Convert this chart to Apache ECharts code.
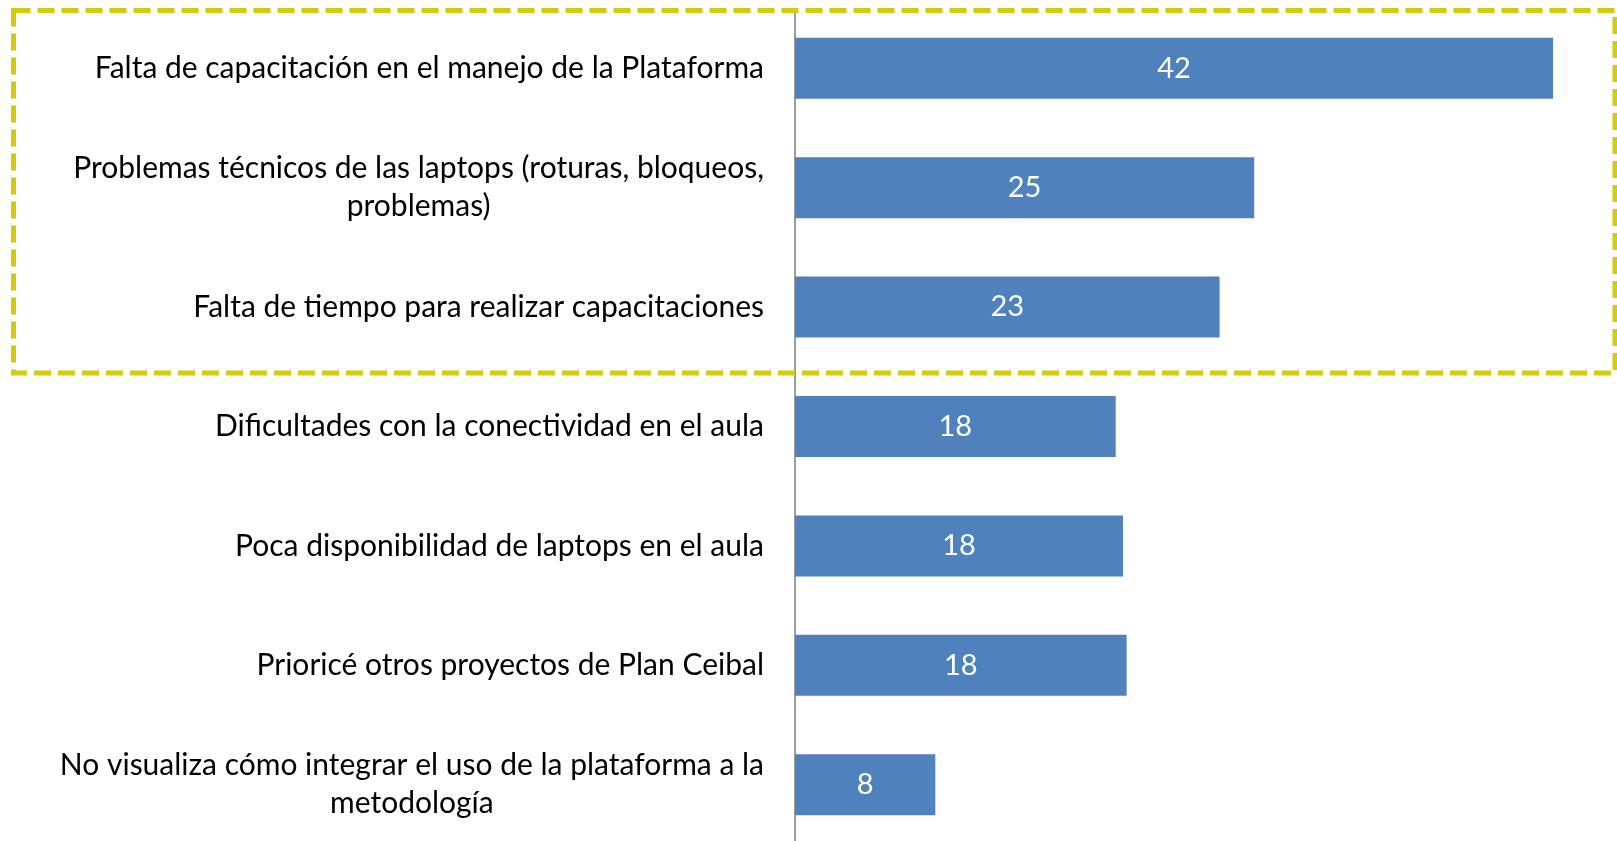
<!DOCTYPE html>
<html>
<head>
<meta charset="utf-8">
<script src="https://cdn.jsdelivr.net/npm/echarts@6/dist/echarts.min.js"></script>
<style>
  html, body { margin: 0; padding: 0; background: #fff; }
  #main { width: 1617px; height: 841px; }
</style>
</head>
<body>
<div id="main"></div>
<script>
// categories, top to bottom
const categories = [
  'Falta de capacitación en el manejo de la Plataforma',
  'Problemas técnicos de las laptops (roturas, bloqueos,\nproblemas)',
  'Falta de tiempo para realizar capacitaciones',
  'Dificultades con la conectividad en el aula',
  'Poca disponibilidad de laptops en el aula',
  'Prioricé otros proyectos de Plan Ceibal',
  'No visualiza cómo integrar el uso de la plataforma a la\nmetodología'
]
// bar lengths (labels show rounded values)
const values = [41.6, 25.2, 23.3, 17.6, 18.0, 18.2, 7.7]

const chart = echarts.init(document.getElementById('main'))
const font = 'Lato, "Open Sans", sans-serif'

chart.setOption({
  animation: false,
  grid: { left: 795, top: 8.5, width: 820, height: 836, outerBoundsMode: 'none' },
  xAxis: {
    type: 'value',
    min: 0,
    max: 45,
    show: false
  },
  yAxis: {
    type: 'category',
    inverse: true,
    data: categories,
    axisLine: { show: true, lineStyle: { color: '#9d9d9d', width: 2 } },
    axisTick: { show: false },
    splitLine: { show: false },
    axisLabel: {
      margin: 31,
      align: 'right',
      formatter: (v) => v.split('\n').map((s) => '{c|' + s + '}').join('\n'),
      rich: {
        c: {
          align: 'center',
          fontFamily: font,
          fontSize: 30,
          lineHeight: 38,
          color: '#000'
        }
      }
    }
  },
  series: [
    {
      type: 'bar',
      data: values,
      barWidth: 61,
      itemStyle: { color: '#4f81bd' },
      label: {
        show: true,
        position: 'inside',
        color: '#fff',
        fontFamily: font,
        fontSize: 29,
        formatter: (p) => Math.round(p.value)
      }
    }
  ],
  graphic: [
    {
      type: 'rect',
      shape: { x: 13.5, y: 10.5, width: 1601.5, height: 362.5 },
      style: {
        fill: 'none',
        stroke: '#d3cb0f',
        lineWidth: 5,
        lineDash: [17, 7]
      },
      z: 100
    }
  ]
})
</script>
</body>
</html>
